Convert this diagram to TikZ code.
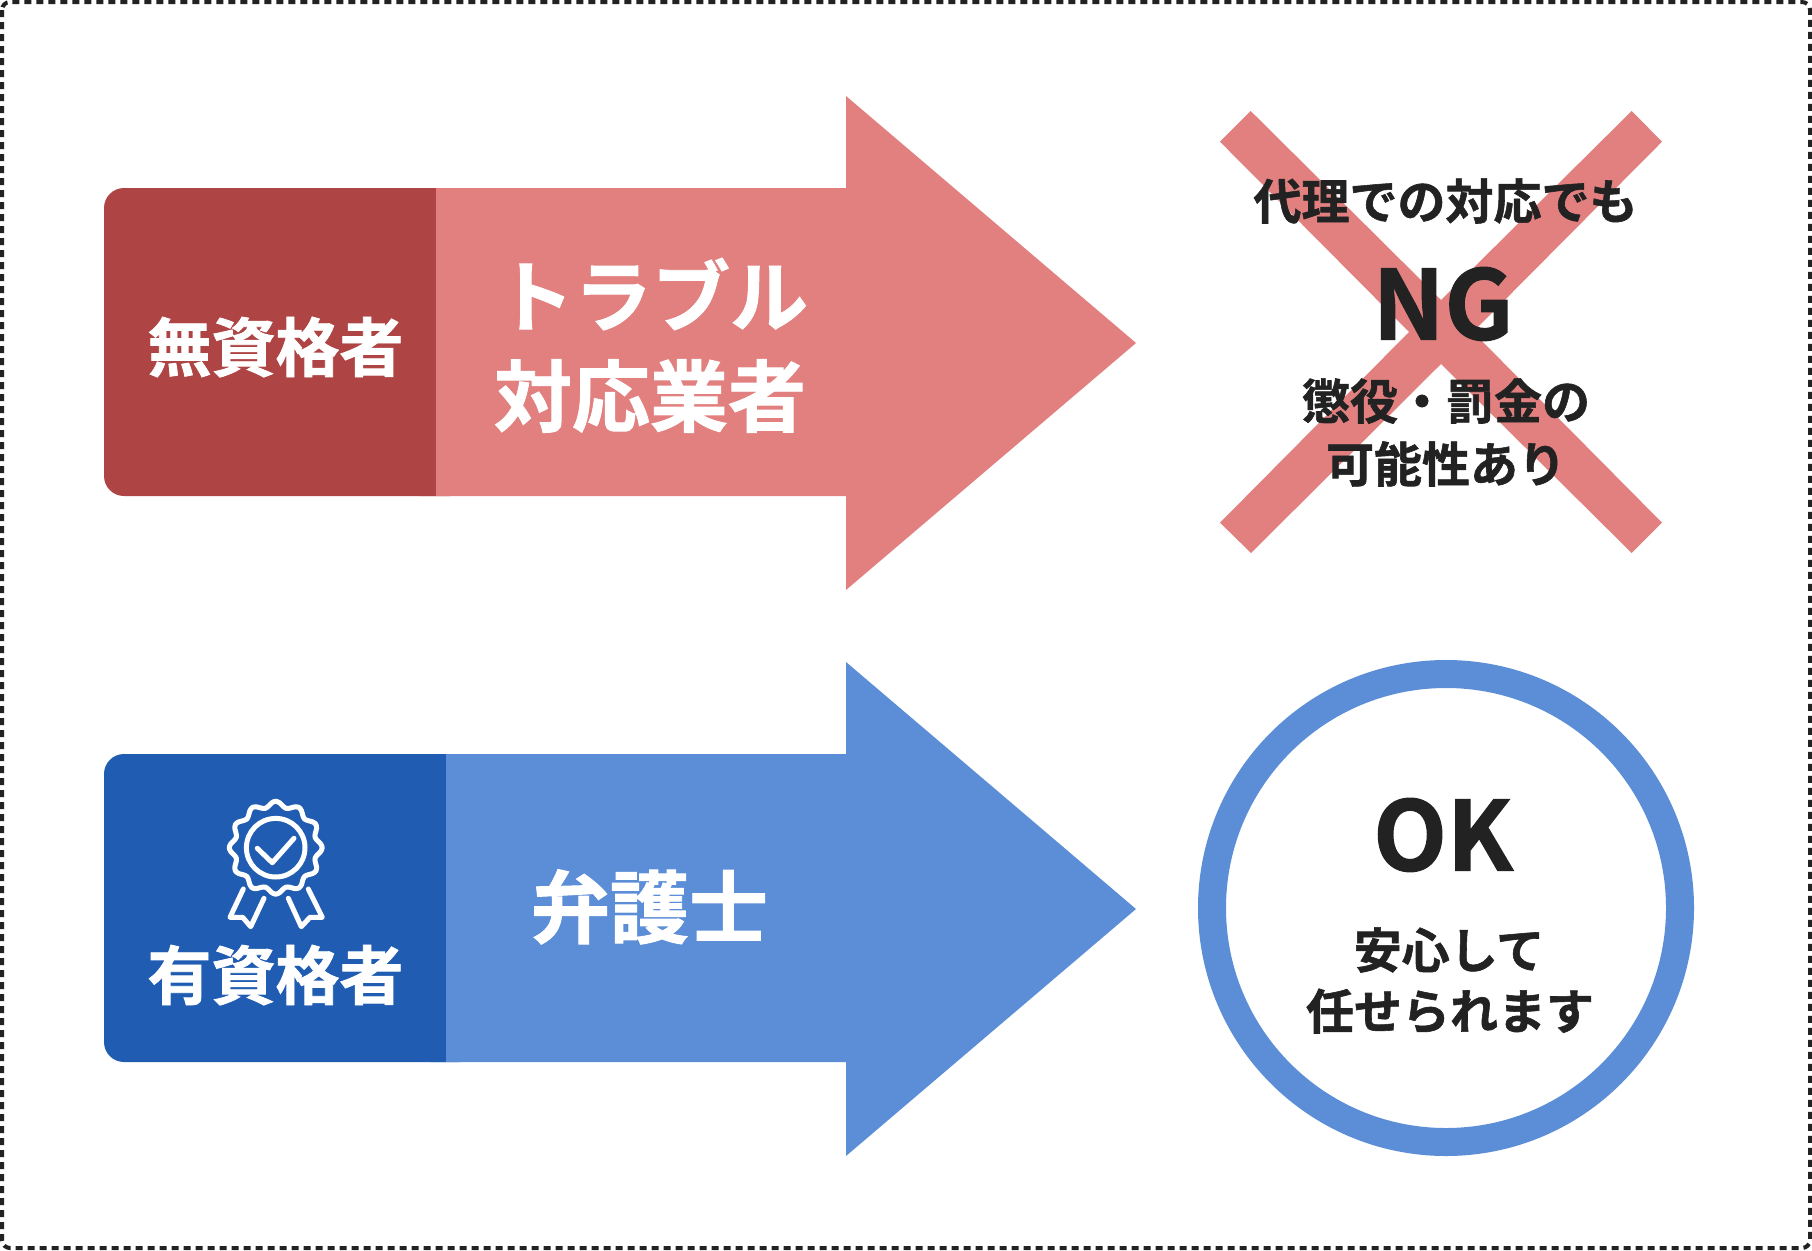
\documentclass[tikz,border=0pt]{standalone}
\usepackage{fontspec}
\setmainfont{Noto Sans CJK JP}
\newfontfamily\jpb{Noto Sans CJK JP Bold}[FakeBold=1.2]
\definecolor{redlight}{HTML}{E28080}
\definecolor{reddark}{HTML}{AF4444}
\definecolor{bluelight}{HTML}{5C8ED8}
\definecolor{bluedark}{HTML}{205CB1}
\definecolor{ink}{HTML}{222222}
\tikzset{
  txt/.style={inner sep=0pt,outer sep=0pt,text height=#1*0.88pt,text depth=#1*0.12pt,font=\jpb\fontsize{#1}{#1}\selectfont},
  whitetxt/.style={txt=#1,text=white},
  darktxt/.style={txt=#1,text=ink},
  iconline/.style={draw=white,line width=5pt,line cap=round,line join=round}
}
\begin{document}
\begin{tikzpicture}[x=1pt,y=-1pt]
\useasboundingbox (0,0) rectangle (1812,1250);
\fill[white] (0,0) rectangle (1812,1250);
\draw[ink,line width=4pt,dash pattern=on 7pt off 5pt,rounded corners=8pt] (2,2) rectangle (1810,1248);
% red arrow
\fill[redlight] (420,188) -- (846,188) -- (846,96) -- (1136,343) -- (846,590) -- (846,496) -- (420,496) -- cycle;
\fill[reddark,rounded corners=20pt] (104,188) rectangle (470,496);
\fill[redlight] (436,188) rectangle (480,496);
% blue arrow
\fill[bluelight] (430,754) -- (846,754) -- (846,662) -- (1136,909) -- (846,1156) -- (846,1062) -- (430,1062) -- cycle;
\fill[bluedark,rounded corners=20pt] (104,754) rectangle (480,1062);
\fill[bluelight] (446,754) rectangle (490,1062);
% cross
\fill[redlight] (1250.7,111) -- (1441,300) -- (1631.7,111) -- (1662,141.7) -- (1473,332) -- (1662,522.7) -- (1631.7,553) -- (1441,364) -- (1251,553) -- (1220,522.7) -- (1409,332) -- (1220,141.7) -- cycle;
% circle
\draw[bluelight,line width=28pt] (1446,908) circle (234);
% icon
\draw[iconline] plot[smooth cycle,samples at={0,5,...,355},variable=\t] ({275.7+(43.6+2.9*cos(12*\t))*sin(\t)},{847.7-(43.6+2.9*cos(12*\t))*cos(\t)});
\draw[iconline] (275.7,847.7) circle (29.3);
\draw[iconline] (257.3,848.3) -- (272.3,862.7) -- (294,838.3);
\draw[iconline] (243.3,889) -- (230,917.3) -- (242.7,917.3) -- (250.7,926.7) -- (264,898.3);
\draw[iconline] (308.3,889) -- (322.3,917.3) -- (310,917.3) -- (301.3,926.7) -- (288.3,898.3);
% text
\node[whitetxt=64] (n1) at (275.5,347) {無資格者};
\node[whitetxt=78] (n2) at (652,296) {トラブル};
\node[whitetxt=78] (n3) at (650,396) {対応業者};
\node[whitetxt=64] (n4) at (275.5,975) {有資格者};
\node[whitetxt=79] (n5) at (649.5,907) {弁護士};
\node[darktxt=48] (n6) at (1445.5,201) {代理での対応でも};
\node[darktxt=96] (n7) at (1443,303) {NG};
\node[darktxt=48] (n8) at (1446,401) {懲役・罰金の};
\node[darktxt=48] (n9) at (1446,464) {可能性あり};
\node[darktxt=96] (n10) at (1443,834) {OK};
\node[darktxt=48] (n11) at (1449,950) {安心して};
\node[darktxt=48] (n12) at (1450,1011) {任せられます};
\end{tikzpicture}
\end{document}
